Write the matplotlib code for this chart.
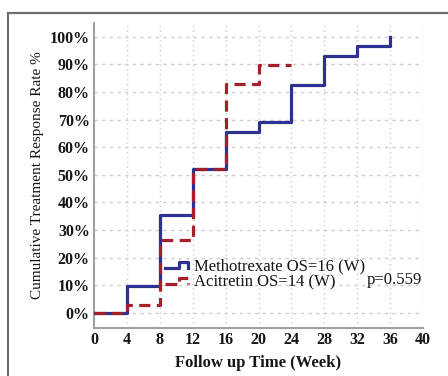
import matplotlib
matplotlib.use("Agg")
import matplotlib.pyplot as plt
from matplotlib.legend_handler import HandlerBase
from matplotlib.lines import Line2D
from matplotlib.patches import Rectangle

# Data
mtx_weeks = [0, 4, 8, 12, 16, 20, 24, 28, 32, 36]
mtx_rate = [0, 9.7, 35.5, 52, 65.5, 69, 82.5, 93, 96.5, 100]
aci_weeks = [0, 4, 8, 12, 16, 20, 24]
aci_rate = [0, 3, 26.5, 52, 83, 89.7, 89.7]
labels = ["Methotrexate OS=16 (W)", "Acitretin OS=14 (W)"]
xticks = list(range(0, 41, 4))
yticks = list(range(0, 101, 10))
p_text = "p=0.559"

BLUE = "#2E3192"
RED = "#A51F2B"
SERIF = ["Liberation Serif", "DejaVu Serif"]
TXT = "#151515"

fig = plt.figure(figsize=(4.48, 3.76), dpi=100)
fig.patch.set_facecolor("white")

# outer frame (top and left visible)
fig.patches.append(Rectangle((8 / 448, -0.2), 2.0, 1.2 - 13 / 376,
                             transform=fig.transFigure, fill=False,
                             edgecolor="#6e6e6e", linewidth=1.6, zorder=0))

ax = fig.add_axes([94 / 448, 1 - 328 / 376, (423 - 94) / 448, (328 - 23) / 376])
ax.set_xlim(0, 40)
ax.set_ylim(-5.5, 105)

for x in xticks[1:]:
    ax.axvline(x, color="#cfcfcf", lw=1.0, ls=(0, (1, 2.5)), zorder=1)
for y in yticks:
    ax.axhline(y, color="#cfcfcf", lw=1.0, ls=(0, (2.5, 3)), zorder=1)

ax.step(mtx_weeks, mtx_rate, where="post", color=BLUE, lw=2.3, zorder=3,
        label=labels[0])
ax.step(aci_weeks, aci_rate, where="post", color=RED, lw=2.3, zorder=4,
        ls=(0, (3.5, 2)), label=labels[1])

for s in ["top", "right"]:
    ax.spines[s].set_visible(False)
for s in ["left", "bottom"]:
    ax.spines[s].set_color("#a0a0a0")
    ax.spines[s].set_linewidth(1.5)

ax.set_xticks(xticks)
ax.set_yticks(yticks)
ax.set_yticklabels([f"{v}%" for v in yticks])
ax.tick_params(length=0, pad=3)
for lab in ax.get_xticklabels() + ax.get_yticklabels():
    lab.set_fontfamily(SERIF)
    lab.set_fontsize(11.5)
    lab.set_fontweight("bold")
    lab.set_color(TXT)

ax.set_xlabel("Follow up Time (Week)", fontfamily=SERIF, fontsize=12,
              fontweight="bold", color=TXT, labelpad=5)
ax.set_ylabel("Cumulative Treatment Response Rate %", fontfamily=SERIF,
              fontsize=11, color=TXT, labelpad=4)


class StepHandler(HandlerBase):
    def create_artists(self, legend, orig_handle, xdescent, ydescent,
                       width, height, fontsize, trans):
        xs = [0, 0.6 * width, 0.6 * width, width, width]
        ys = [0.25 * height, 0.25 * height, 0.75 * height, 0.75 * height,
              0.2 * height]
        xs = [x - xdescent for x in xs]
        ys = [y - ydescent for y in ys]
        ln = Line2D(xs, ys, color=orig_handle.get_color(),
                    lw=orig_handle.get_linewidth(),
                    ls=orig_handle.get_linestyle(), transform=trans)
        return [ln]


handles, lbls = ax.get_legend_handles_labels()
leg = ax.legend(handles, lbls, loc="upper left", bbox_to_anchor=(0.216, 0.228),
                frameon=False, handler_map={Line2D: StepHandler()},
                prop={"family": SERIF, "size": 12}, handlelength=1.4,
                handletextpad=0.35, labelspacing=0.02, borderpad=0.0,
                borderaxespad=0.0)
for t in leg.get_texts():
    t.set_color(TXT)

ax.text(33.2, 12, p_text, fontfamily=SERIF, fontsize=12, color=TXT,
        ha="left", va="center")

fig.savefig("out.png", dpi=100, facecolor="white")
